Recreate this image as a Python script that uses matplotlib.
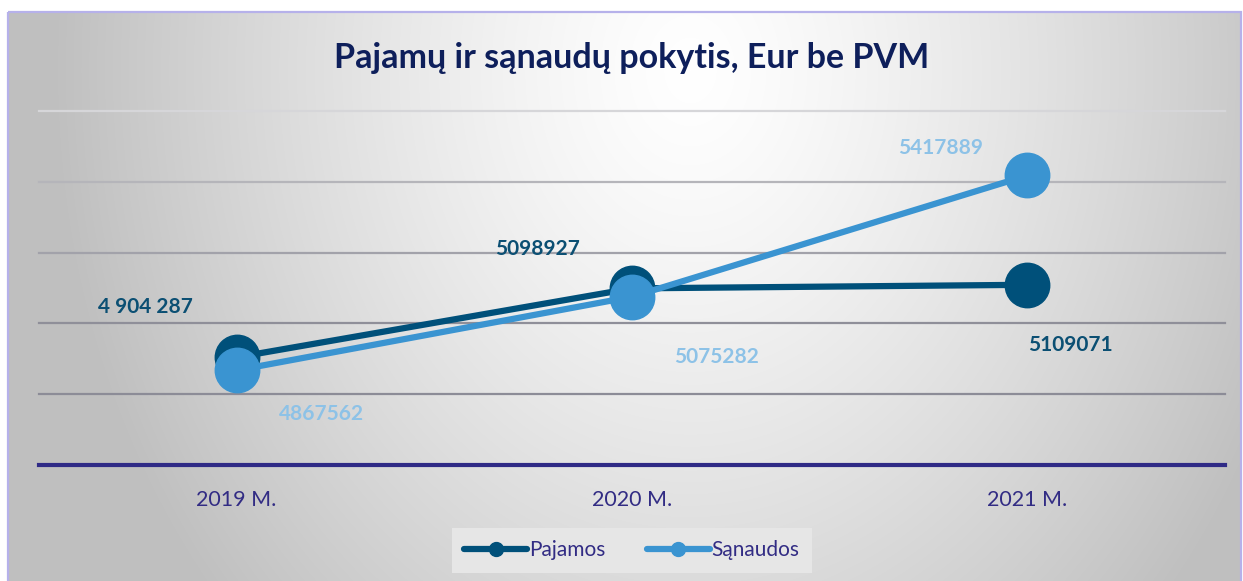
import numpy as np
import matplotlib
matplotlib.use("Agg")
import matplotlib.pyplot as plt
from matplotlib.lines import Line2D
from matplotlib.patches import Rectangle

# ---- data ----
categories = ["2019 M.", "2020 M.", "2021 M."]
pajamos = [4904287, 5098927, 5109071]
sanaudos = [4867562, 5075282, 5417889]
pajamos_labels = ["4 904 287", "5098927", "5109071"]
sanaudos_labels = ["4867562", "5075282", "5417889"]
series_names = ["Pajamos", "Sąnaudos"]
title = "Pajamų ir sąnaudų pokytis, Eur be PVM"
y_ticks = [4600000, 4800000, 5000000, 5200000, 5400000, 5600000]

# ---- style ----
FONT = "Lato"
C_PAJ = "#00507a"
C_SAN = "#3a94d1"
C_PAJ_LBL = "#0b4f73"
C_SAN_LBL = "#8dc2e7"
C_TXT = "#322c84"
C_TITLE = "#0e1f5b"

W, H = 1243, 581
fig = plt.figure(figsize=(W / 100, H / 100), dpi=100)
fig.patch.set_facecolor("white")

# background gradient
bg = fig.add_axes([0, 0, 1, 1], zorder=0)
bg.set_xlim(0, W)
bg.set_ylim(H, 0)
bg.axis("off")
xx, yy = np.meshgrid(np.arange(W), np.arange(H))
r = np.sqrt(((xx - 690) / 640.0) ** 2 + ((yy - 70) / 800.0) ** 2)
g = 255 - 64 * np.clip(r, 0, 1) ** 1.3
img = np.dstack([g, g, g]).astype(np.uint8)
x0, y0 = 8, 12
bg.imshow(img[y0:, x0:1241], extent=(x0, 1241, H, y0), aspect="auto", zorder=0)
bg.add_patch(Rectangle((x0, y0), 1241 - x0, H - y0 + 5, fill=False,
                       edgecolor="#b6b1ea", lw=1.6, zorder=2))

# main axes
L, R, T, B = 39, 1225, 111, 465
ax = fig.add_axes([L / W, 1 - B / H, (R - L) / W, (B - T) / H], zorder=1)
ax.patch.set_alpha(0)
ax.set_ylim(y_ticks[0], y_ticks[-1])
ax.set_xlim(-0.5, len(categories) - 0.5)
for s in ax.spines.values():
    s.set_visible(False)
ax.set_yticks([])
grid_cols = ["#8c8c97", "#8f8f99", "#a2a2aa", "#b5b5ba", "#d6d6d9"]
for v, c in zip(y_ticks[1:], grid_cols):
    ax.axhline(v, color=c, lw=1.6, zorder=1, clip_on=False)
ax.axhline(y_ticks[0], color="#2f2a86", lw=3, zorder=2, clip_on=False)

x = np.arange(len(categories))
ax.plot(x, pajamos, color=C_PAJ, lw=4.5, marker="o", ms=32, zorder=3,
        solid_capstyle="round")
ax.plot(x, sanaudos, color=C_SAN, lw=4.5, marker="o", ms=32, zorder=4,
        solid_capstyle="round")

ax.set_xticks(x)
ax.set_xticklabels(categories, fontsize=15.5, color=C_TXT, family=FONT)
ax.tick_params(axis="x", length=0, pad=18)

paj_off = [(-91, 50), (-94, 39), (43, -60)]
san_off = [(85, -44), (85, -60), (-87, 27)]
for i in range(len(categories)):
    ax.annotate(pajamos_labels[i], (x[i], pajamos[i]), xytext=paj_off[i],
                textcoords="offset pixels", ha="center", va="center",
                fontsize=15, fontweight="bold", color=C_PAJ_LBL, family=FONT, zorder=5)
    ax.annotate(sanaudos_labels[i], (x[i], sanaudos[i]), xytext=san_off[i],
                textcoords="offset pixels", ha="center", va="center",
                fontsize=15, fontweight="bold", color=C_SAN_LBL, family=FONT, zorder=5)

fig.text(632 / W, 1 - 68 / H, title, ha="center", va="baseline", fontsize=24.5,
         fontweight="bold", color=C_TITLE, family=FONT)

handles = [Line2D([], [], color=C_PAJ, lw=4.5, marker="o", ms=10, solid_capstyle="round"),
           Line2D([], [], color=C_SAN, lw=4.5, marker="o", ms=10, solid_capstyle="round")]
leg = fig.legend(handles, series_names, loc="center", bbox_to_anchor=(632 / W, 1 - 550 / H),
                 ncol=2, frameon=True, fancybox=False, handlelength=3.0,
                 handletextpad=0.1, columnspacing=2.0, borderpad=0.6,
                 prop={"family": FONT, "size": 15})
leg.get_frame().set_facecolor("#e6e6e6")
leg.get_frame().set_edgecolor("none")
leg.get_frame().set_alpha(1)
for t in leg.get_texts():
    t.set_color(C_TXT)

fig.savefig("out.png", dpi=100)
